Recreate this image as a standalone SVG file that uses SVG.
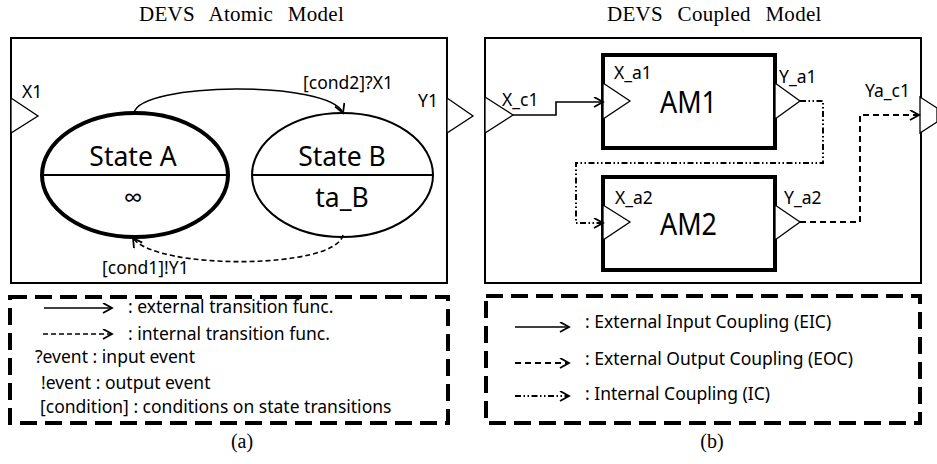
<svg xmlns="http://www.w3.org/2000/svg" width="937" height="464" viewBox="0 0 937 464">
<style>
.t{font-family:"Noto Sans","Open Sans","DejaVu Sans",sans-serif;fill:#000;font-size:17.5px}
.big{font-size:26.5px}
.am{font-size:31px}
.ser{font-family:"Liberation Serif","Times New Roman",serif;fill:#000}
.ttl{font-size:21px;letter-spacing:0.3px;word-spacing:9px}
.box{fill:#fff;stroke:#000;stroke-width:2}
.leg{fill:none;stroke:#000;stroke-width:4;stroke-dasharray:17 8}
.ln{fill:none;stroke:#000;stroke-width:1.6}
.dash{stroke-dasharray:5 3}
.dash2{stroke-dasharray:6 4;stroke-width:2}
.dd{stroke-dasharray:6 2.5 1.5 2.5 1.5 2.5;stroke-width:2}
.port{fill:#fff;stroke:#000;stroke-width:1.3}
</style>
<defs>
<marker id="arr" markerUnits="userSpaceOnUse" markerWidth="13" markerHeight="13" refX="10" refY="5.5" orient="auto">
<path d="M1,0.5 L10,5.5 L1,10.5" fill="none" stroke="#000" stroke-width="1.8" stroke-dasharray="none"/>
</marker>
</defs>

<!-- titles -->
<text class="ser ttl" x="139" y="21">DEVS Atomic Model</text>
<text class="ser ttl" x="607" y="21">DEVS Coupled Model</text>
<text class="ser" x="242" y="448" font-size="20" text-anchor="middle">(a)</text>
<text class="ser" x="712" y="448" font-size="20" text-anchor="middle">(b)</text>

<!-- (a) atomic model -->
<g id="atomic-model">
<rect class="box" x="11" y="38" width="436" height="245"/>
<polygon class="port" points="11,98 38,116 11,133"/>
<polygon class="port" points="447,98 473,116 447,133"/>
<text class="t" x="22" y="98">X1</text>
<text class="t" x="418" y="107">Y1</text>
</g>
<g id="state-a">
<ellipse cx="135" cy="175" rx="93" ry="62" fill="#fff" stroke="#000" stroke-width="4"/>
<line x1="42" y1="175" x2="228" y2="175" stroke="#000" stroke-width="2"/>
<text class="t big" x="133" y="166" text-anchor="middle">State A</text>
<text class="t big" x="133" y="207" text-anchor="middle">∞</text>
</g>
<g id="state-b">
<ellipse cx="342.5" cy="175" rx="90.5" ry="62" fill="#fff" stroke="#000" stroke-width="2"/>
<line x1="252" y1="175" x2="433" y2="175" stroke="#000" stroke-width="2"/>
<text class="t big" x="342" y="166" text-anchor="middle">State B</text>
<text class="t big" x="342" y="207" text-anchor="middle">ta_B</text>
</g>
<g id="transitions">
<path class="ln" d="M134,113 C140,82 330,80 343,113" marker-end="url(#arr)"/>
<path class="ln dash" d="M343,235 C335,270 155,270 133,238" marker-end="url(#arr)"/>
<text class="t" x="303" y="89">[cond2]?X1</text>
<text class="t" x="102" y="274">[cond1]!Y1</text>
</g>
<g id="legend-a">
<rect class="leg" x="10" y="297" width="438" height="126"/>
<line class="ln" x1="44" y1="308" x2="112" y2="308" marker-end="url(#arr)"/>
<text class="t" x="128" y="313">: external transition func.</text>
<line class="ln dash" x1="43" y1="334" x2="112" y2="334" marker-end="url(#arr)"/>
<text class="t" x="128" y="340">: internal transition func.</text>
<text class="t" x="35" y="363">?event : input event</text>
<text class="t" x="41" y="389">!event : output event</text>
<text class="t" x="40" y="413">[condition] : conditions on state transitions</text>
</g>

<!-- (b) coupled model -->
<g id="coupled-model">
<rect class="box" x="485" y="38" width="436" height="245"/>
<polygon class="port" points="485,97 513,115 485,133"/>
<polygon class="port" points="920,97 937,108 937,122 920,133"/>
<text class="t" x="502" y="106">X_c1</text>
<text class="t" x="865" y="97">Ya_c1</text>
</g>
<g id="am1">
<rect x="603" y="55" width="172" height="93" fill="#fff" stroke="#000" stroke-width="4"/>
<polygon class="port" points="603,83 630,101 603,119"/>
<polygon class="port" points="775,83 800,101 775,119"/>
<text class="t" x="614" y="79">X_a1</text>
<text class="t" x="779" y="83">Y_a1</text>
<text class="t am" x="660" y="113" textLength="57" lengthAdjust="spacingAndGlyphs">AM1</text>
</g>
<g id="am2">
<rect x="603" y="177" width="172" height="93" fill="#fff" stroke="#000" stroke-width="4"/>
<polygon class="port" points="603,205 630,222 603,240"/>
<polygon class="port" points="775,205 800,222 775,240"/>
<text class="t" x="615" y="204">X_a2</text>
<text class="t" x="784" y="204">Y_a2</text>
<text class="t am" x="660" y="235" textLength="57" lengthAdjust="spacingAndGlyphs">AM2</text>
</g>
<g id="connectors">
<path class="ln" d="M513,115 H556 V102 H603" marker-end="url(#arr)"/>
<path class="ln dd" d="M800,101 H823 V163 H576 V223 H603" marker-end="url(#arr)"/>
<path class="ln dash2" d="M800,222 H860 V115 H919" marker-end="url(#arr)"/>
</g>
<g id="legend-b">
<rect class="leg" x="486" y="296" width="434" height="127"/>
<line class="ln" x1="515" y1="327" x2="569" y2="327" marker-end="url(#arr)"/>
<text class="t" x="585" y="328">: External Input Coupling (EIC)</text>
<line class="ln dash2" x1="515" y1="363" x2="569" y2="363" marker-end="url(#arr)"/>
<text class="t" x="585" y="365">: External Output Coupling (EOC)</text>
<line class="ln dd" x1="515" y1="396" x2="569" y2="396" marker-end="url(#arr)"/>
<text class="t" x="585" y="400">: Internal Coupling (IC)</text>
</g>
</svg>
